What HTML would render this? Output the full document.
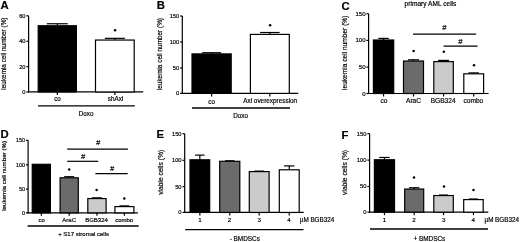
<!DOCTYPE html>
<html><head><meta charset="utf-8"><style>
html,body{margin:0;padding:0;background:#fff;width:520px;height:242px;overflow:hidden}
svg{display:block}
line{stroke:#000}
circle{fill:#000}
#w{width:520px;height:242px;filter:grayscale(1)}
text{font-family:"Liberation Sans", sans-serif;fill:#000;stroke:#000;stroke-width:0.18px}
</style></head><body><div id="w">
<svg width="520" height="242" viewBox="0 0 520 242">
<g>
<rect width="520" height="242" fill="#fff"/>
<text x="0.5" y="9.4" font-size="11.3" font-weight="bold">A</text>
<line x1="28.6" y1="15.8" x2="28.6" y2="92.55" stroke-width="1.2"/>
<line x1="26.4" y1="15.8" x2="28.6" y2="15.8" stroke-width="1.2"/>
<text x="25.5" y="17.74" font-size="5.7" text-anchor="end">60</text>
<line x1="26.4" y1="41.3" x2="28.6" y2="41.3" stroke-width="1.2"/>
<text x="25.5" y="43.24" font-size="5.7" text-anchor="end">40</text>
<line x1="26.4" y1="66.6" x2="28.6" y2="66.6" stroke-width="1.2"/>
<text x="25.5" y="68.54" font-size="5.7" text-anchor="end">20</text>
<line x1="26.4" y1="91.95" x2="28.6" y2="91.95" stroke-width="1.2"/>
<text x="25.5" y="93.89" font-size="5.7" text-anchor="end">0</text>
<line x1="28" y1="91.95" x2="143.2" y2="91.95" stroke-width="1.2"/>
<line x1="57.3" y1="23.75" x2="57.3" y2="25.75" stroke-width="1.2"/>
<line x1="46.8" y1="23.75" x2="67.8" y2="23.75" stroke-width="1.2"/>
<rect x="38.2" y="25.75" width="38.2" height="66.2" fill="#000" stroke="#000" stroke-width="1.2"/>
<line x1="57.3" y1="91.95" x2="57.3" y2="94.95" stroke-width="1.2"/>
<line x1="114.85" y1="38.35" x2="114.85" y2="40.05" stroke-width="1.2"/>
<line x1="104.85" y1="38.35" x2="124.85" y2="38.35" stroke-width="1.2"/>
<rect x="95.5" y="40.05" width="38.7" height="51.9" fill="#fff" stroke="#000" stroke-width="1.2"/>
<line x1="114.85" y1="91.95" x2="114.85" y2="94.95" stroke-width="1.2"/>
<text x="57.5" y="100.8" font-size="6.3" text-anchor="middle">co</text>
<text x="115.5" y="101" font-size="6.3" text-anchor="middle">shAxl</text>
<line x1="38" y1="105.9" x2="134.8" y2="105.9" stroke-width="1.3"/>
<text x="86.1" y="115.6" font-size="6.3" text-anchor="middle">Doxo</text>
<text transform="translate(5.9,53.6) rotate(-90)" font-size="6.4" text-anchor="middle">leukemia cell number (%)</text>
<circle cx="115.1" cy="30.2" r="1.25"/>
<text x="156.7" y="9.4" font-size="11.3" font-weight="bold">B</text>
<line x1="182.3" y1="16" x2="182.3" y2="94" stroke-width="1.2"/>
<line x1="180.1" y1="16" x2="182.3" y2="16" stroke-width="1.2"/>
<text x="179.2" y="17.94" font-size="5.7" text-anchor="end">150</text>
<line x1="180.1" y1="42" x2="182.3" y2="42" stroke-width="1.2"/>
<text x="179.2" y="43.94" font-size="5.7" text-anchor="end">100</text>
<line x1="180.1" y1="68" x2="182.3" y2="68" stroke-width="1.2"/>
<text x="179.2" y="69.94" font-size="5.7" text-anchor="end">50</text>
<line x1="180.1" y1="93.4" x2="182.3" y2="93.4" stroke-width="1.2"/>
<text x="179.2" y="95.34" font-size="5.7" text-anchor="end">0</text>
<line x1="181.7" y1="93.4" x2="298.3" y2="93.4" stroke-width="1.2"/>
<line x1="211.6" y1="52.7" x2="211.6" y2="53.9" stroke-width="1.2"/>
<line x1="202.1" y1="52.7" x2="221.1" y2="52.7" stroke-width="1.2"/>
<rect x="192" y="53.9" width="39.2" height="39.5" fill="#000" stroke="#000" stroke-width="1.2"/>
<line x1="211.6" y1="93.4" x2="211.6" y2="96.4" stroke-width="1.2"/>
<line x1="269.85" y1="32.5" x2="269.85" y2="34.4" stroke-width="1.2"/>
<line x1="260.1" y1="32.5" x2="279.6" y2="32.5" stroke-width="1.2"/>
<rect x="250.4" y="34.4" width="38.9" height="59" fill="#fff" stroke="#000" stroke-width="1.2"/>
<line x1="269.85" y1="93.4" x2="269.85" y2="96.4" stroke-width="1.2"/>
<text x="211.6" y="103.6" font-size="6.4" text-anchor="middle">co</text>
<text x="270.2" y="103.4" font-size="6.4" text-anchor="middle">Axl overexpression</text>
<line x1="192" y1="108" x2="290" y2="108" stroke-width="1.3"/>
<text x="240.6" y="118.3" font-size="6.4" text-anchor="middle">Doxo</text>
<text transform="translate(161.8,54.1) rotate(-90)" font-size="6.4" text-anchor="middle">leukemia cell number (%)</text>
<circle cx="270.1" cy="25.2" r="1.25"/>
<text x="341.6" y="9.6" font-size="11.3" font-weight="bold">C</text>
<line x1="368.6" y1="13.7" x2="368.6" y2="94.1" stroke-width="1.2"/>
<line x1="366.4" y1="13.7" x2="368.6" y2="13.7" stroke-width="1.2"/>
<text x="365.5" y="15.74" font-size="6.0" text-anchor="end">150</text>
<line x1="366.4" y1="40.4" x2="368.6" y2="40.4" stroke-width="1.2"/>
<text x="365.5" y="42.44" font-size="6.0" text-anchor="end">100</text>
<line x1="366.4" y1="67.1" x2="368.6" y2="67.1" stroke-width="1.2"/>
<text x="365.5" y="69.14" font-size="6.0" text-anchor="end">50</text>
<line x1="366.4" y1="93.5" x2="368.6" y2="93.5" stroke-width="1.2"/>
<text x="365.5" y="95.54" font-size="6.0" text-anchor="end">0</text>
<line x1="368" y1="93.5" x2="488.6" y2="93.5" stroke-width="1.2"/>
<line x1="383.55" y1="38.4" x2="383.55" y2="40" stroke-width="1.2"/>
<line x1="378.3" y1="38.4" x2="388.8" y2="38.4" stroke-width="1.2"/>
<rect x="373.4" y="40" width="20.3" height="53.5" fill="#000" stroke="#000" stroke-width="1.2"/>
<line x1="383.55" y1="93.5" x2="383.55" y2="96.5" stroke-width="1.2"/>
<line x1="413.5" y1="59.8" x2="413.5" y2="61" stroke-width="1.2"/>
<line x1="408" y1="59.8" x2="419" y2="59.8" stroke-width="1.2"/>
<rect x="403.5" y="61" width="20" height="32.5" fill="#6b6b6b" stroke="#000" stroke-width="1.2"/>
<line x1="413.5" y1="93.5" x2="413.5" y2="96.5" stroke-width="1.2"/>
<line x1="443.55" y1="60.4" x2="443.55" y2="61.6" stroke-width="1.2"/>
<line x1="438.05" y1="60.4" x2="449.05" y2="60.4" stroke-width="1.2"/>
<rect x="433.8" y="61.6" width="19.5" height="31.9" fill="#cbcbcb" stroke="#000" stroke-width="1.2"/>
<line x1="443.55" y1="93.5" x2="443.55" y2="96.5" stroke-width="1.2"/>
<line x1="473.7" y1="72.9" x2="473.7" y2="73.8" stroke-width="1.2"/>
<line x1="468.45" y1="72.9" x2="478.95" y2="72.9" stroke-width="1.2"/>
<rect x="463.8" y="73.8" width="19.8" height="19.7" fill="#fff" stroke="#000" stroke-width="1.2"/>
<line x1="473.7" y1="93.5" x2="473.7" y2="96.5" stroke-width="1.2"/>
<text x="384" y="103" font-size="6.6" text-anchor="middle">co</text>
<text x="413.5" y="103" font-size="6.6" text-anchor="middle">AraC</text>
<text x="443.1" y="103" font-size="6.6" text-anchor="middle">BGB324</text>
<text x="473.4" y="103" font-size="6.6" text-anchor="middle">combo</text>
<text x="404.6" y="6.1" font-size="6.6">primary AML cells</text>
<text transform="translate(347.2,52.8) rotate(-90)" font-size="6.6" text-anchor="middle">leukemia cell number (%)</text>
<circle cx="413.6" cy="50.9" r="1.25"/>
<circle cx="443.8" cy="51.8" r="1.25"/>
<circle cx="474" cy="65.3" r="1.25"/>
<line x1="413" y1="34.15" x2="476.2" y2="34.15" stroke-width="1.2"/>
<text x="444.2" y="30.45" font-size="7.4" text-anchor="middle" font-style="italic">#</text>
<line x1="443.6" y1="46.15" x2="477.6" y2="46.15" stroke-width="1.2"/>
<text x="460.4" y="44.05" font-size="7.4" text-anchor="middle" font-style="italic">#</text>
<text x="0.4" y="137.9" font-size="11.3" font-weight="bold">D</text>
<line x1="28.1" y1="140.3" x2="28.1" y2="213.45" stroke-width="1.2"/>
<line x1="25.9" y1="140.3" x2="28.1" y2="140.3" stroke-width="1.2"/>
<text x="25" y="142.14" font-size="5.4" text-anchor="end">150</text>
<line x1="25.9" y1="164.8" x2="28.1" y2="164.8" stroke-width="1.2"/>
<text x="25" y="166.64" font-size="5.4" text-anchor="end">100</text>
<line x1="25.9" y1="189.1" x2="28.1" y2="189.1" stroke-width="1.2"/>
<text x="25" y="190.94" font-size="5.4" text-anchor="end">50</text>
<line x1="25.9" y1="212.85" x2="28.1" y2="212.85" stroke-width="1.2"/>
<text x="25" y="214.69" font-size="5.4" text-anchor="end">0</text>
<line x1="27.5" y1="212.85" x2="137.9" y2="212.85" stroke-width="1.2"/>
<rect x="32.25" y="164.3" width="18.15" height="48.55" fill="#000" stroke="#000" stroke-width="1.2"/>
<line x1="41.33" y1="212.85" x2="41.33" y2="215.85" stroke-width="1.2"/>
<line x1="69.2" y1="176.7" x2="69.2" y2="177.8" stroke-width="1.2"/>
<line x1="64.2" y1="176.7" x2="74.2" y2="176.7" stroke-width="1.2"/>
<rect x="60.1" y="177.8" width="18.2" height="35.05" fill="#6b6b6b" stroke="#000" stroke-width="1.2"/>
<line x1="69.2" y1="212.85" x2="69.2" y2="215.85" stroke-width="1.2"/>
<line x1="96.95" y1="197.85" x2="96.95" y2="198.55" stroke-width="1.2"/>
<line x1="91.95" y1="197.85" x2="101.95" y2="197.85" stroke-width="1.2"/>
<rect x="87.8" y="198.55" width="18.3" height="14.3" fill="#cbcbcb" stroke="#000" stroke-width="1.2"/>
<line x1="96.95" y1="212.85" x2="96.95" y2="215.85" stroke-width="1.2"/>
<line x1="124.4" y1="205.9" x2="124.4" y2="206.6" stroke-width="1.2"/>
<line x1="119.4" y1="205.9" x2="129.4" y2="205.9" stroke-width="1.2"/>
<rect x="114.9" y="206.6" width="19" height="6.25" fill="#fff" stroke="#000" stroke-width="1.2"/>
<line x1="124.4" y1="212.85" x2="124.4" y2="215.85" stroke-width="1.2"/>
<text x="41.7" y="222" font-size="6.0" text-anchor="middle">co</text>
<text x="69.2" y="222" font-size="6.0" text-anchor="middle">AraC</text>
<text x="96.5" y="222" font-size="6.0" text-anchor="middle">BGB324</text>
<text x="124.2" y="222" font-size="6.0" text-anchor="middle">combo</text>
<line x1="27.6" y1="226" x2="138.7" y2="226" stroke-width="1.3"/>
<text x="83.6" y="235.8" font-size="6.0" text-anchor="middle">+ S17 stromal cells</text>
<text transform="translate(6.1,175.9) rotate(-90)" font-size="6.2" text-anchor="middle">leukemia cell number (%)</text>
<circle cx="69.2" cy="169.5" r="1.25"/>
<circle cx="96.6" cy="190.1" r="1.25"/>
<circle cx="124.3" cy="198.4" r="1.25"/>
<line x1="67.2" y1="149.1" x2="127.9" y2="149.1" stroke-width="1.2"/>
<text x="97.95" y="144.9" font-size="7.4" text-anchor="middle" font-style="italic">#</text>
<line x1="67.2" y1="161.3" x2="98.2" y2="161.3" stroke-width="1.2"/>
<text x="83.1" y="159.1" font-size="7.4" text-anchor="middle" font-style="italic">#</text>
<line x1="95.4" y1="173.7" x2="127.7" y2="173.7" stroke-width="1.2"/>
<text x="111.95" y="171.2" font-size="7.4" text-anchor="middle" font-style="italic">#</text>
<text x="156.6" y="138.2" font-size="11.3" font-weight="bold">E</text>
<line x1="184.7" y1="133.7" x2="184.7" y2="213.05" stroke-width="1.2"/>
<line x1="182.5" y1="133.7" x2="184.7" y2="133.7" stroke-width="1.2"/>
<text x="181.6" y="135.67" font-size="5.8" text-anchor="end">150</text>
<line x1="182.5" y1="160.3" x2="184.7" y2="160.3" stroke-width="1.2"/>
<text x="181.6" y="162.27" font-size="5.8" text-anchor="end">100</text>
<line x1="182.5" y1="186.6" x2="184.7" y2="186.6" stroke-width="1.2"/>
<text x="181.6" y="188.57" font-size="5.8" text-anchor="end">50</text>
<line x1="182.5" y1="212.45" x2="184.7" y2="212.45" stroke-width="1.2"/>
<text x="181.6" y="214.42" font-size="5.8" text-anchor="end">0</text>
<line x1="184.1" y1="212.45" x2="303.7" y2="212.45" stroke-width="1.2"/>
<line x1="199.85" y1="155.1" x2="199.85" y2="159.8" stroke-width="1.2"/>
<line x1="195.1" y1="155.1" x2="204.6" y2="155.1" stroke-width="1.2"/>
<rect x="190" y="159.8" width="19.7" height="52.65" fill="#000" stroke="#000" stroke-width="1.2"/>
<line x1="199.85" y1="212.45" x2="199.85" y2="215.45" stroke-width="1.2"/>
<line x1="229.75" y1="160.8" x2="229.75" y2="161.3" stroke-width="1.2"/>
<line x1="225" y1="160.8" x2="234.5" y2="160.8" stroke-width="1.2"/>
<rect x="219.7" y="161.3" width="20.1" height="51.15" fill="#6b6b6b" stroke="#000" stroke-width="1.2"/>
<line x1="229.75" y1="212.45" x2="229.75" y2="215.45" stroke-width="1.2"/>
<line x1="259.2" y1="171.1" x2="259.2" y2="171.6" stroke-width="1.2"/>
<line x1="254.45" y1="171.1" x2="263.95" y2="171.1" stroke-width="1.2"/>
<rect x="249.3" y="171.6" width="19.8" height="40.85" fill="#cbcbcb" stroke="#000" stroke-width="1.2"/>
<line x1="259.2" y1="212.45" x2="259.2" y2="215.45" stroke-width="1.2"/>
<line x1="289.25" y1="165.9" x2="289.25" y2="169.8" stroke-width="1.2"/>
<line x1="284.05" y1="165.9" x2="294.45" y2="165.9" stroke-width="1.2"/>
<rect x="279.3" y="169.8" width="19.9" height="42.65" fill="#fff" stroke="#000" stroke-width="1.2"/>
<line x1="289.25" y1="212.45" x2="289.25" y2="215.45" stroke-width="1.2"/>
<text x="199.9" y="221.9" font-size="6.2" text-anchor="middle">1</text>
<text x="229.5" y="221.9" font-size="6.2" text-anchor="middle">2</text>
<text x="259.3" y="221.9" font-size="6.2" text-anchor="middle">3</text>
<text x="288.9" y="221.9" font-size="6.2" text-anchor="middle">4</text>
<line x1="185.2" y1="229.7" x2="303.5" y2="229.7" stroke-width="1.3"/>
<text x="299.8" y="221.5" font-size="6.3">µM BGB324</text>
<text x="244.8" y="241.2" font-size="6.4" text-anchor="middle">- BMDSCs</text>
<text transform="translate(162.7,172.3) rotate(-90)" font-size="6.7" text-anchor="middle">viable cells (%)</text>
<text x="341.4" y="138.5" font-size="11.3" font-weight="bold">F</text>
<line x1="369.6" y1="133.65" x2="369.6" y2="212.75" stroke-width="1.2"/>
<line x1="367.4" y1="133.65" x2="369.6" y2="133.65" stroke-width="1.2"/>
<text x="366.5" y="135.62" font-size="5.8" text-anchor="end">150</text>
<line x1="367.4" y1="160.15" x2="369.6" y2="160.15" stroke-width="1.2"/>
<text x="366.5" y="162.12" font-size="5.8" text-anchor="end">100</text>
<line x1="367.4" y1="186.5" x2="369.6" y2="186.5" stroke-width="1.2"/>
<text x="366.5" y="188.47" font-size="5.8" text-anchor="end">50</text>
<line x1="367.4" y1="212.15" x2="369.6" y2="212.15" stroke-width="1.2"/>
<text x="366.5" y="214.12" font-size="5.8" text-anchor="end">0</text>
<line x1="369" y1="212.15" x2="488.3" y2="212.15" stroke-width="1.2"/>
<line x1="384.45" y1="157.45" x2="384.45" y2="159.75" stroke-width="1.2"/>
<line x1="379.25" y1="157.45" x2="389.65" y2="157.45" stroke-width="1.2"/>
<rect x="374.4" y="159.75" width="20.1" height="52.4" fill="#000" stroke="#000" stroke-width="1.2"/>
<line x1="384.45" y1="212.15" x2="384.45" y2="215.15" stroke-width="1.2"/>
<line x1="414.2" y1="187.75" x2="414.2" y2="189.05" stroke-width="1.2"/>
<line x1="409" y1="187.75" x2="419.4" y2="187.75" stroke-width="1.2"/>
<rect x="404.7" y="189.05" width="19" height="23.1" fill="#6b6b6b" stroke="#000" stroke-width="1.2"/>
<line x1="414.2" y1="212.15" x2="414.2" y2="215.15" stroke-width="1.2"/>
<line x1="443.55" y1="195.05" x2="443.55" y2="195.55" stroke-width="1.2"/>
<line x1="439.05" y1="195.05" x2="448.05" y2="195.05" stroke-width="1.2"/>
<rect x="433.8" y="195.55" width="19.5" height="16.6" fill="#cbcbcb" stroke="#000" stroke-width="1.2"/>
<line x1="443.55" y1="212.15" x2="443.55" y2="215.15" stroke-width="1.2"/>
<line x1="473.45" y1="199" x2="473.45" y2="199.6" stroke-width="1.2"/>
<line x1="468.95" y1="199" x2="477.95" y2="199" stroke-width="1.2"/>
<rect x="463.7" y="199.6" width="19.5" height="12.55" fill="#fff" stroke="#000" stroke-width="1.2"/>
<line x1="473.45" y1="212.15" x2="473.45" y2="215.15" stroke-width="1.2"/>
<text x="384.5" y="221.9" font-size="6.2" text-anchor="middle">1</text>
<text x="413.9" y="221.9" font-size="6.2" text-anchor="middle">2</text>
<text x="443.8" y="221.9" font-size="6.2" text-anchor="middle">3</text>
<text x="473.3" y="221.9" font-size="6.2" text-anchor="middle">4</text>
<line x1="370" y1="229" x2="488" y2="229" stroke-width="1.3"/>
<text x="484.5" y="221.5" font-size="6.3">µM BGB324</text>
<text x="429.4" y="240.8" font-size="6.4" text-anchor="middle">+ BMDSCs</text>
<text transform="translate(347.4,172.4) rotate(-90)" font-size="6.7" text-anchor="middle">viable cells (%)</text>
<circle cx="414" cy="177.6" r="1.25"/>
<circle cx="444" cy="186.6" r="1.25"/>
<circle cx="473.5" cy="189.9" r="1.25"/>
</g>
</svg></div>
</body></html>
